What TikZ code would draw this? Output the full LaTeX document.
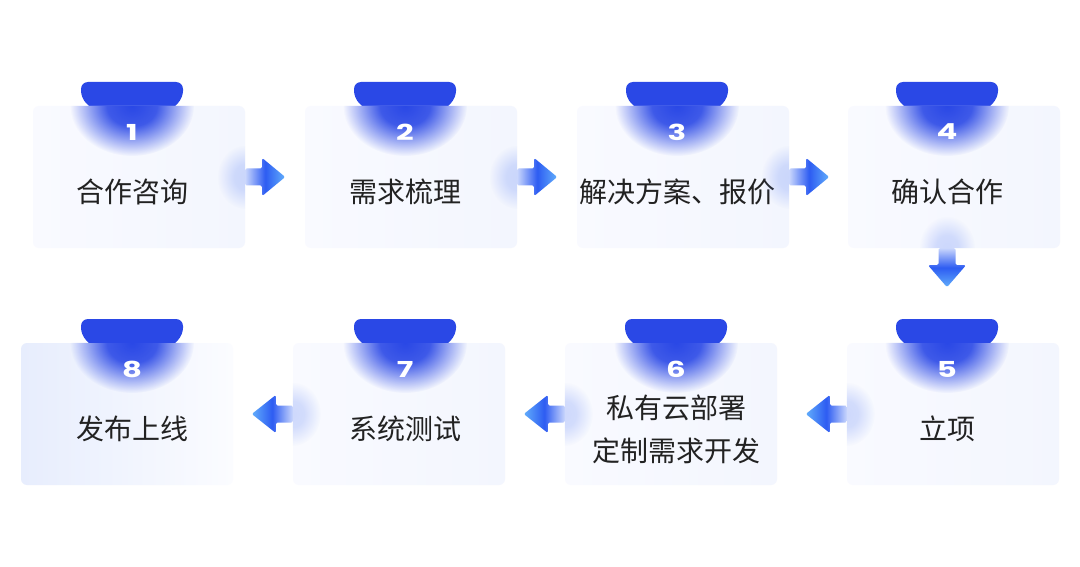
\documentclass[tikz,border=0pt]{standalone}
\usepackage{fontspec}
\newfontfamily\cjk{Noto Sans CJK SC}
\newfontfamily\numfont{Poppins}
\usetikzlibrary{fadings,calc}
\definecolor{tabblue}{HTML}{2A48E6}
\definecolor{arrblue}{HTML}{2D5CF2}
\definecolor{arrtip}{HTML}{62AEFB}
\definecolor{arrtail}{HTML}{C9D6FC}
\definecolor{txt}{HTML}{222222}
\definecolor{cardA}{HTML}{F9FAFF}
\definecolor{cardB}{HTML}{F3F6FE}
\definecolor{cardC}{HTML}{E7EDFD}
\definecolor{cardD}{HTML}{FBFCFF}
\pgfdeclareradialshading{glowsh}{\pgfpointorigin}{color(0bp)=(pgftransparent!0); color(10bp)=(pgftransparent!10); color(25bp)=(pgftransparent!100); color(50bp)=(pgftransparent!100)}
\pgfdeclarefading{glowfade}{\pgfuseshading{glowsh}}
\tikzset{
  card/.style={minimum width=212pt, minimum height=142pt, rounded corners=6pt, inner sep=0pt, draw=none},
  lbl/.style={font=\cjk\fontsize{28}{43}\selectfont, text=txt, align=center, inner sep=0pt},
  num/.style={font=\numfont\bfseries\fontsize{22}{22}\selectfont, text=white, inner sep=0pt},
  rarr/.style={left color=arrtail, right color=arrtip, middle color=arrblue, rounded corners=1.5pt},
  larr/.style={left color=arrtip, right color=arrtail, middle color=arrblue, rounded corners=1.5pt},
  darr/.style={top color=arrtail, bottom color=arrtip, middle color=arrblue, rounded corners=1.5pt},
  edgeglow/.style={arrblue!70, opacity=0.3, path fading=glowfade}
}
% #1 name, #2 card cx, #3 card cy, #4 tab x, #5 number, #6 text, #7/#8 card colours
\newcommand\mkcard[8]{%
  \coordinate (#1top) at (#4,#3-71);
  \fill[tabblue, rounded corners=7pt]
    ([shift={(-35,8)}]#1top) -- ([shift={(-51,-8)}]#1top) -- ([shift={(-51,-24)}]#1top)
    -- ([shift={(51,-24)}]#1top) -- ([shift={(51,-8)}]#1top) -- ([shift={(35,8)}]#1top) -- cycle;
  \node[card, left color=#7, right color=#8] (#1) at (#2,#3) {};
  \begin{scope}
    \clip[rounded corners=6pt] (#1.south west) rectangle (#1.north east);
    \fill[tabblue, path fading=glowfade] (#1top) ellipse (62 and 50);
  \end{scope}
  \node[num] (#1n) at (#4,#3-45) {\scalebox{1.4}[1]{#5}};
  \node[lbl] (#1t) at (#4,#3+15) {#6};
}
\newcommand\edgeglowat[2]{%
  \begin{scope}
    \clip[rounded corners=6pt] (#1.south west) rectangle (#1.north east);
    \fill[edgeglow] (#2) ellipse (28 and 32);
  \end{scope}
}
\begin{document}
\begin{tikzpicture}[x=1pt,y=-1pt]
\useasboundingbox[fill=white] (0,0) rectangle (1080,567);

\mkcard{c1}{139}{177}{132}{1}{合作咨询}{cardA}{cardB}
\mkcard{c2}{411}{177}{405}{2}{需求梳理}{cardA}{cardB}
\mkcard{c3}{683}{177}{677}{3}{解决方案、报价}{cardA}{cardB}
\mkcard{c4}{954}{177}{947}{4}{确认合作}{cardA}{cardB}
\mkcard{c5}{953}{414}{947}{5}{立项}{cardA}{cardB}
\mkcard{c6}{671}{414}{676}{6}{私有云部署\\定制需求开发}{cardA}{cardB}
\mkcard{c7}{399}{414}{405}{7}{系统测试}{cardA}{cardB}
\mkcard{c8}{127}{414}{132}{8}{发布上线}{cardC}{cardD}

% glows where connectors leave the cards
\edgeglowat{c1}{c1.east}
\edgeglowat{c2}{c2.east}
\edgeglowat{c3}{c3.east}
\coordinate (c4s) at (c4t |- c4.south);
\edgeglowat{c4}{c4s}
\edgeglowat{c5}{c5.west}
\edgeglowat{c6}{c6.west}
\edgeglowat{c7}{c7.west}

% connectors: right arrows, row 1
\foreach \a in {c1,c2,c3}{
  \shade[rarr] (\a.east) ++(0,-8.5) -- ++(17,0) -- ++(0,-10.5) -- ++(23,19) -- ++(-23,19) -- ++(0,-10.5) -- ++(-17,0) -- cycle;
}
% down arrow c4 -> c5
\shade[darr] (c4s) ++(-8.5,0) -- ++(0,17) -- ++(-10.5,0) -- ++(19,22) -- ++(19,-22) -- ++(-10.5,0) -- ++(0,-17) -- cycle;
% left arrows, row 2
\foreach \a in {c5,c6,c7}{
  \shade[larr] (\a.west) ++(0,-8.5) -- ++(-17,0) -- ++(0,-10.5) -- ++(-24,19) -- ++(24,19) -- ++(0,-10.5) -- ++(17,0) -- cycle;
}
\end{tikzpicture}
\end{document}
